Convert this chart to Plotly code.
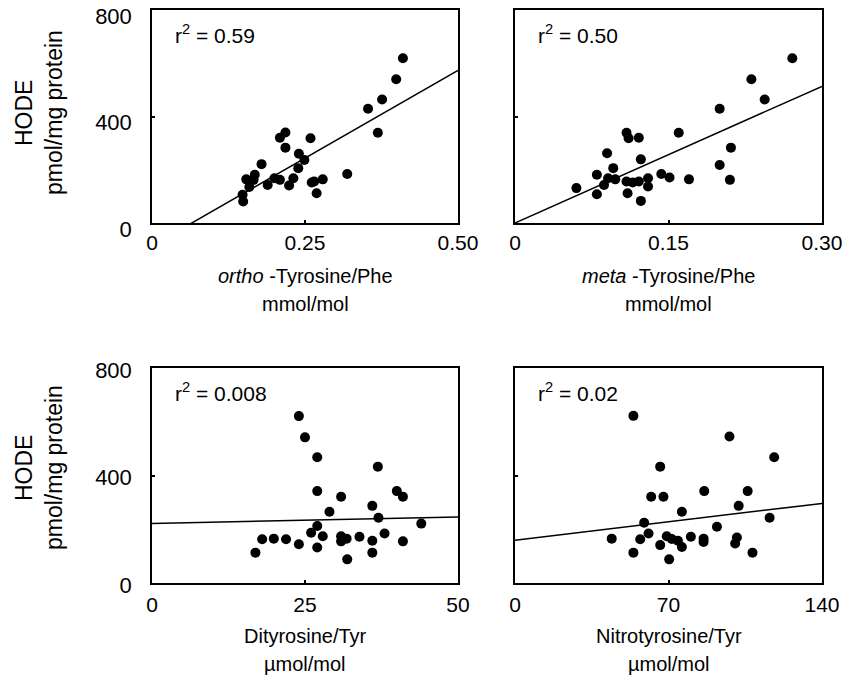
import plotly.graph_objects as go

W, H = 858, 697

# ---------------- data ----------------
ortho_x = [0.410, 0.399, 0.376, 0.353, 0.369, 0.319, 0.218, 0.209, 0.218, 0.259,
           0.240, 0.249, 0.239, 0.179, 0.231, 0.224, 0.209, 0.200, 0.189, 0.168,
           0.166, 0.154, 0.159, 0.148, 0.149, 0.261, 0.269, 0.279, 0.265]
ortho_y = [619, 540, 464, 429, 339, 184, 340, 320, 283, 318,
           260, 237, 206, 221, 168, 141, 162, 168, 143, 181,
           162, 164, 135, 106, 81, 152, 112, 164, 156]

meta_x = [0.271, 0.231, 0.244, 0.200, 0.160, 0.211, 0.200, 0.210, 0.170, 0.143,
          0.151, 0.109, 0.111, 0.121, 0.123, 0.090, 0.096, 0.080, 0.091, 0.098,
          0.087, 0.060, 0.080, 0.110, 0.123, 0.109, 0.115, 0.121, 0.130, 0.130]
meta_y = [619, 540, 464, 429, 339, 283, 218, 162, 164, 184,
          171, 339, 318, 320, 239, 262, 206, 181, 168, 164,
          143, 131, 108, 112, 83, 156, 152, 156, 168, 137]

dityr_x = [24.0, 25.0, 27.0, 36.9, 27.0, 40.0, 41.0, 30.9, 36.0, 29.0,
           37.0, 27.0, 44.0, 26.0, 27.9, 18.0, 19.9, 21.9, 24.0, 27.0,
           16.9, 30.9, 30.9, 31.8, 33.9, 36.0, 38.0, 36.0, 31.9, 41.0]
dityr_y = [621, 542, 468, 433, 342, 342, 321, 321, 287, 265,
           243, 212, 221, 187, 174, 163, 165, 163, 144, 132,
           113, 174, 155, 165, 172, 157, 184, 113, 88, 155]

nitro_x = [54.0, 97.8, 118.2, 66.2, 62.1, 67.7, 86.3, 106.1, 102.0, 76.1,
           116.1, 58.9, 92.1, 44.1, 57.1, 60.9, 69.2, 71.5, 66.2, 74.3,
           76.1, 80.2, 86.0, 86.0, 101.2, 100.4, 54.0, 70.3, 108.3]
nitro_y = [622, 545, 468, 433, 321, 321, 342, 342, 287, 265,
           243, 224, 209, 165, 163, 184, 174, 164, 141, 157,
           134, 172, 165, 153, 169, 147, 113, 88, 113]

# regression lines: (intercept, slope)
fit_ortho = (-85.6, 1317.0)
fit_meta = (0.0, 1711.0)
fit_dityr = (221.0, 0.5)
fit_nitro = (159.0, 0.98)

r2_labels = ["0.59", "0.50", "0.008", "0.02"]
x_maxes = [0.50, 0.30, 50, 140]
x_tickvals = [[0, 0.25, 0.50], [0, 0.15, 0.30], [0, 25, 50], [0, 70, 140]]
x_ticktext = [["0", "0.25", "0.50"], ["0", "0.15", "0.30"], ["0", "25", "50"], ["0", "70", "140"]]
x_titles = ["<i>ortho</i> -Tyrosine/Phe", "<i>meta</i> -Tyrosine/Phe",
            "Dityrosine/Tyr", "Nitrotyrosine/Tyr"]
x_units = ["mmol/mol", "mmol/mol", "µmol/mol", "µmol/mol"]
y_tickvals = [0, 400, 800]
y_ticktext = ["0", "400", "800"]
y_title1 = "HODE"
y_title2 = "pmol/mg protein"

xs = [ortho_x, meta_x, dityr_x, nitro_x]
ys = [ortho_y, meta_y, dityr_y, nitro_y]
fits = [fit_ortho, fit_meta, fit_dityr, fit_nitro]

# ---------------- layout geometry (pixels) ----------------
def px(x):
    return x / W

def py(y):
    return 1 - y / H

col_px = [(152, 458), (515, 822)]
row_px = [(10, 223), (368, 583)]
FONT = "Arial, Liberation Sans, sans-serif"

fig = go.Figure()
layout = dict(
    width=W, height=H, autosize=False,
    margin=dict(l=0, r=0, t=0, b=0, pad=0, autoexpand=False),
    paper_bgcolor="white", plot_bgcolor="white",
    showlegend=False,
    font=dict(family=FONT, color="black"),
)
annotations = []

for i in range(4):
    r, c = divmod(i, 2)
    n = "" if i == 0 else str(i + 1)
    xa, ya = "x" + n, "y" + n
    fig.add_trace(go.Scatter(
        x=xs[i], y=ys[i], mode="markers", xaxis=xa, yaxis=ya,
        marker=dict(color="black", size=10, line=dict(width=0)),
        cliponaxis=False,
    ))
    b, m = fits[i]
    lx = [0, x_maxes[i]]
    ly = [b + m * v for v in lx]
    fig.add_trace(go.Scatter(
        x=lx, y=ly, mode="lines", xaxis=xa, yaxis=ya,
        line=dict(color="black", width=1.5),
    ))
    x0, x1 = col_px[c]
    y0, y1 = row_px[r]
    layout["xaxis" + n] = dict(
        domain=[px(x0), px(x1)], anchor=ya, range=[0, x_maxes[i]],
        tickvals=x_tickvals[i], ticktext=x_ticktext[i],
        showline=True, mirror=True, linecolor="black", linewidth=1.5,
        ticks="inside", ticklen=3, tickcolor="black", tickwidth=1.5,
        showgrid=False, zeroline=False, fixedrange=True, automargin=False,
        tickfont=dict(size=21, family=FONT, color="black"),
        ticklabelstandoff=0 if r == 0 else 2,
        ticklabeloverflow="allow",
    )
    layout["yaxis" + n] = dict(
        domain=[py(y1), py(y0)], anchor=xa, range=[0, 800],
        tickvals=y_tickvals, ticktext=y_ticktext,
        showticklabels=(c == 0),
        showline=True, mirror=True, linecolor="black", linewidth=1.5,
        ticks="inside", ticklen=3, tickcolor="black", tickwidth=1.5,
        showgrid=False, zeroline=False, fixedrange=True, automargin=False,
        tickfont=dict(size=22, family=FONT, color="black"),
        ticklabelstandoff=14,
        ticklabelshift=6 if r == 0 else 2,
        ticklabeloverflow="allow",
    )
    # r^2 label
    annotations.append(dict(
        xref="paper", yref="paper", x=px(x0 + 21), y=py(y0 + 24),
        xanchor="left", yanchor="middle", showarrow=False,
        text="r<sup>2</sup> = " + r2_labels[i],
        font=dict(size=21, family=FONT, color="black"),
    ))
    # x titles
    xc = (x0 + x1) / 2
    annotations.append(dict(
        xref="paper", yref="paper", x=px(xc), y=py(y1 + 53),
        xanchor="center", yanchor="middle", showarrow=False,
        text=x_titles[i], font=dict(size=20, family=FONT, color="black"),
    ))
    annotations.append(dict(
        xref="paper", yref="paper", x=px(xc), y=py(y1 + 81),
        xanchor="center", yanchor="middle", showarrow=False,
        text=x_units[i], font=dict(size=20, family=FONT, color="black"),
    ))

# y titles
for (y0, y1), yc in zip(row_px, [113, 468]):
    annotations.append(dict(
        xref="paper", yref="paper", x=px(24), y=py(yc),
        xanchor="center", yanchor="middle", showarrow=False, textangle=-90,
        text=y_title1, font=dict(size=23, family=FONT, color="black"),
    ))
    annotations.append(dict(
        xref="paper", yref="paper", x=px(54), y=py(yc),
        xanchor="center", yanchor="middle", showarrow=False, textangle=-90,
        text=y_title2, font=dict(size=23, family=FONT, color="black"),
    ))

layout["annotations"] = annotations
fig.update_layout(**layout)
fig.write_html("out.html", config={"displayModeBar": False})
